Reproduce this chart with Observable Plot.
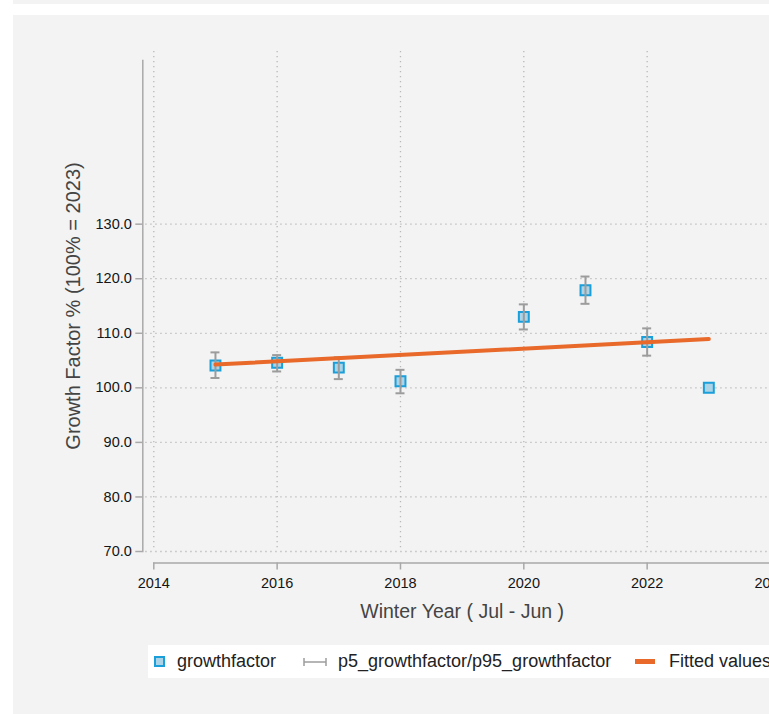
<!DOCTYPE html>
<html>
<head>
<meta charset="utf-8">
<script src="https://cdn.jsdelivr.net/npm/d3@7"></script>
<script src="https://cdn.jsdelivr.net/npm/@observablehq/plot@0.6"></script>
<style>
  html, body { margin: 0; padding: 0; background: #fff; overflow: hidden; width: 769px; height: 714px; }
  body { font-family: "Liberation Sans", Arial, sans-serif; }
  #strip { position: absolute; left: 13px; top: 0; width: 756px; height: 4px; background: #f3f3f3; }
  #panel { position: absolute; left: 13px; top: 15px; width: 756px; height: 699px; background: #f3f3f3; }
  #chart { position: absolute; left: 0; top: 0; width: 769px; height: 714px; overflow: hidden; }
  #legend { position: absolute; left: 148px; top: 645px; width: 640px; height: 33px; background: #fff;
            font-size: 18px; color: #222; }
  #legend .item { position: absolute; top: 0; height: 33px; line-height: 33px; white-space: nowrap; }
  #legend .sq { position: absolute; left: 6px; top: 11px; width: 11px; height: 11px; box-sizing: border-box;
                border: 2px solid #1a9fdb; background: #acd3e6; }
  #legend .cap { position: absolute; left: 155px; top: 12px; }
  #legend .fit { position: absolute; left: 487px; top: 14px; width: 20px; height: 5px; background: #e8692a; }
</style>
</head>
<body>
<div id="strip"></div>
<div id="panel"></div>
<div id="chart"></div>
<script>
// Winter-year growth factors with their 5th/95th percentile range
const years = [2015, 2016, 2017, 2018, 2020, 2021, 2022, 2023];
const growthfactor = [104.1, 104.6, 103.7, 101.2, 113.0, 117.9, 108.4, 100.0];
const p5_growthfactor = [101.8, 103.0, 101.6, 99.0, 110.7, 115.4, 105.9, null];
const p95_growthfactor = [106.5, 106.0, 105.6, 103.3, 115.3, 120.4, 110.9, null];

const yTicks = [70, 80, 90, 100, 110, 120, 130];
const xTicks = [2014, 2016, 2018, 2020, 2022, 2024];
const xTitle = "Winter Year ( Jul - Jun )";
const yTitle = "Growth Factor % (100% = 2023)";
const legendLabels = ["growthfactor", "p5_growthfactor/p95_growthfactor", "Fitted values"];

const rows = years.map((year, i) => ({
  year, value: growthfactor[i], lo: p5_growthfactor[i], hi: p95_growthfactor[i]
}));
const ranges = rows.filter(d => d.lo != null && d.hi != null);

const gridStyle = {stroke: "#b8b8b8", strokeOpacity: 1, strokeWidth: 1.3, strokeDasharray: "1.3,3.7"};
const axisGray = "#a8a8a8";
const errGray = "#9c9c9c";
const tickFont = {fontSize: 14.5, fill: "#151515"};

const plot = Plot.plot({
  width: 800,
  height: 640,
  marginLeft: 153.3,
  marginRight: 30,
  marginTop: 60,
  marginBottom: 89,
  style: {background: "transparent", maxWidth: "none", overflow: "visible",
          fontFamily: "'Liberation Sans', Arial, sans-serif", fontSize: "14.5px"},
  x: {domain: [2014, 2024]},
  y: {domain: [70, 160]},
  marks: [
    Plot.gridY(yTicks, {...gridStyle, insetLeft: -8}),
    Plot.gridX(xTicks, {...gridStyle, insetTop: -9}),
    Plot.frame({anchor: "left", dx: -11, stroke: axisGray, strokeWidth: 1.5}),
    Plot.frame({anchor: "bottom", dy: 11.5, insetRight: -30, stroke: axisGray, strokeWidth: 1.5}),
    Plot.axisY(yTicks, {anchor: "left", dx: -11, tickSize: 7, tickPadding: 4, strokeWidth: 1.5,
                        tickFormat: d => d.toFixed(1), label: null, stroke: axisGray, ...tickFont}),
    Plot.axisX(xTicks, {anchor: "bottom", dy: 11.5, tickSize: 7, tickPadding: 8, strokeWidth: 1.5,
                        tickFormat: d => String(d), label: null, stroke: axisGray, ...tickFont}),
    Plot.text([xTitle], {frameAnchor: "bottom", lineAnchor: "middle", dy: 60, fontSize: 19.5, fill: "#444"}),
    Plot.text([yTitle], {frameAnchor: "left", textAnchor: "middle", lineAnchor: "middle",
                         dx: -80, rotate: -90, fontSize: 20, fill: "#444"}),
    Plot.dot(rows, {x: "year", y: "value", symbol: "square", r: 5.6,
                    fill: "#acd3e6", stroke: "#1a9fdb", strokeWidth: 2}),
    Plot.ruleX(ranges, {x: "year", y1: "lo", y2: "hi", stroke: errGray, strokeWidth: 2}),
    Plot.ruleY(ranges, {y: "lo", x1: "year", x2: "year", insetLeft: -4.5, insetRight: -4.5,
                        stroke: errGray, strokeWidth: 2}),
    Plot.ruleY(ranges, {y: "hi", x1: "year", x2: "year", insetLeft: -4.5, insetRight: -4.5,
                        stroke: errGray, strokeWidth: 2}),
    Plot.linearRegressionY(rows, {x: "year", y: "value", ci: 0, stroke: "#e8692a", strokeWidth: 4})
  ]
});

const chart = document.getElementById("chart");
chart.appendChild(plot);

// legend strip below the plot
const legend = document.createElement("div");
legend.id = "legend";
legend.innerHTML =
  `<div class="sq"></div>` +
  `<div class="item" style="left:29px">${legendLabels[0]}</div>` +
  `<svg class="cap" width="24" height="10"><g stroke="${errGray}" stroke-width="1.5">` +
  `<line x1="1" y1="5" x2="23" y2="5"/><line x1="1" y1="1" x2="1" y2="9"/>` +
  `<line x1="23" y1="1" x2="23" y2="9"/></g></svg>` +
  `<div class="item" style="left:190px">${legendLabels[1]}</div>` +
  `<div class="fit"></div>` +
  `<div class="item" style="left:521px">${legendLabels[2]}</div>`;
chart.appendChild(legend);
</script>
</body>
</html>
